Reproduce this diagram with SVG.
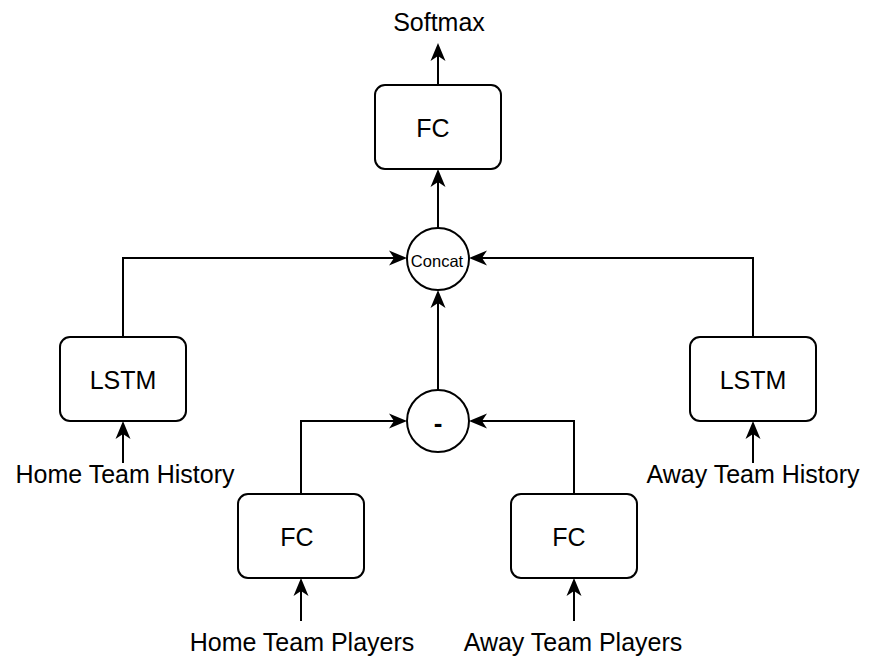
<svg xmlns="http://www.w3.org/2000/svg" width="876" height="664" viewBox="0 0 876 664">
<style>
.box{fill:#fff;stroke:#000;stroke-width:2}
.t{font-family:"Liberation Sans",Arial,sans-serif;font-size:25px;fill:#000;text-anchor:middle}
.c{fill:none;stroke:#000;stroke-width:2}
.h{fill:#000}
</style>
<defs>
<path id="ah" d="M0,0 L-18,-7.5 L-13,0 L-18,7.5 Z"/>
</defs>
<rect width="876" height="664" fill="#fff"/>
<g id="connectors">
<path class="c" d="M438,85 V53"/>
<path class="c" d="M438,228 V179"/>
<path class="c" d="M438,390 V300"/>
<path class="c" d="M123,337 V258 H397"/>
<path class="c" d="M753,337 V258 H479"/>
<path class="c" d="M301,494 V421 H397"/>
<path class="c" d="M574,494 V421 H479"/>
<path class="c" d="M123,463 V431"/>
<path class="c" d="M753,463 V431"/>
<path class="c" d="M301,621 V588"/>
<path class="c" d="M574,621 V588"/>
<use href="#ah" class="h" transform="translate(438,43) rotate(-90)"/>
<use href="#ah" class="h" transform="translate(438,169) rotate(-90)"/>
<use href="#ah" class="h" transform="translate(438,290) rotate(-90)"/>
<use href="#ah" class="h" transform="translate(407,258)"/>
<use href="#ah" class="h" transform="translate(469,258) rotate(180)"/>
<use href="#ah" class="h" transform="translate(407,421)"/>
<use href="#ah" class="h" transform="translate(469,421) rotate(180)"/>
<use href="#ah" class="h" transform="translate(123,421) rotate(-90)"/>
<use href="#ah" class="h" transform="translate(753,421) rotate(-90)"/>
<use href="#ah" class="h" transform="translate(301,578) rotate(-90)"/>
<use href="#ah" class="h" transform="translate(574,578) rotate(-90)"/>
</g>
<g id="softmax"><text class="t" x="439" y="31">Softmax</text></g>
<g id="fc-top"><rect class="box" x="375" y="85" width="126" height="84" rx="10"/><text class="t" x="433" y="137">FC</text></g>
<g id="concat"><circle class="box" cx="438" cy="259" r="31"/><text class="t" x="437" y="267" style="font-size:16.5px">Concat</text></g>
<g id="minus"><circle class="box" cx="438" cy="421" r="31"/><text class="t" x="438" y="432" style="font-weight:bold;font-size:26px">-</text></g>
<g id="lstm-home"><rect class="box" x="60" y="337" width="126" height="84" rx="10"/><text class="t" x="123" y="389">LSTM</text></g>
<g id="lstm-away"><rect class="box" x="690" y="337" width="126" height="84" rx="10"/><text class="t" x="753" y="389">LSTM</text></g>
<g id="fc-home"><rect class="box" x="238" y="494" width="126" height="84" rx="10"/><text class="t" x="297" y="546">FC</text></g>
<g id="fc-away"><rect class="box" x="511" y="494" width="126" height="84" rx="10"/><text class="t" x="569" y="546">FC</text></g>
<g id="home-history"><text class="t" x="125" y="483">Home Team History</text></g>
<g id="away-history"><text class="t" x="753" y="483">Away Team History</text></g>
<g id="home-players"><text class="t" x="302" y="651">Home Team Players</text></g>
<g id="away-players"><text class="t" x="573" y="651">Away Team Players</text></g>
</svg>
